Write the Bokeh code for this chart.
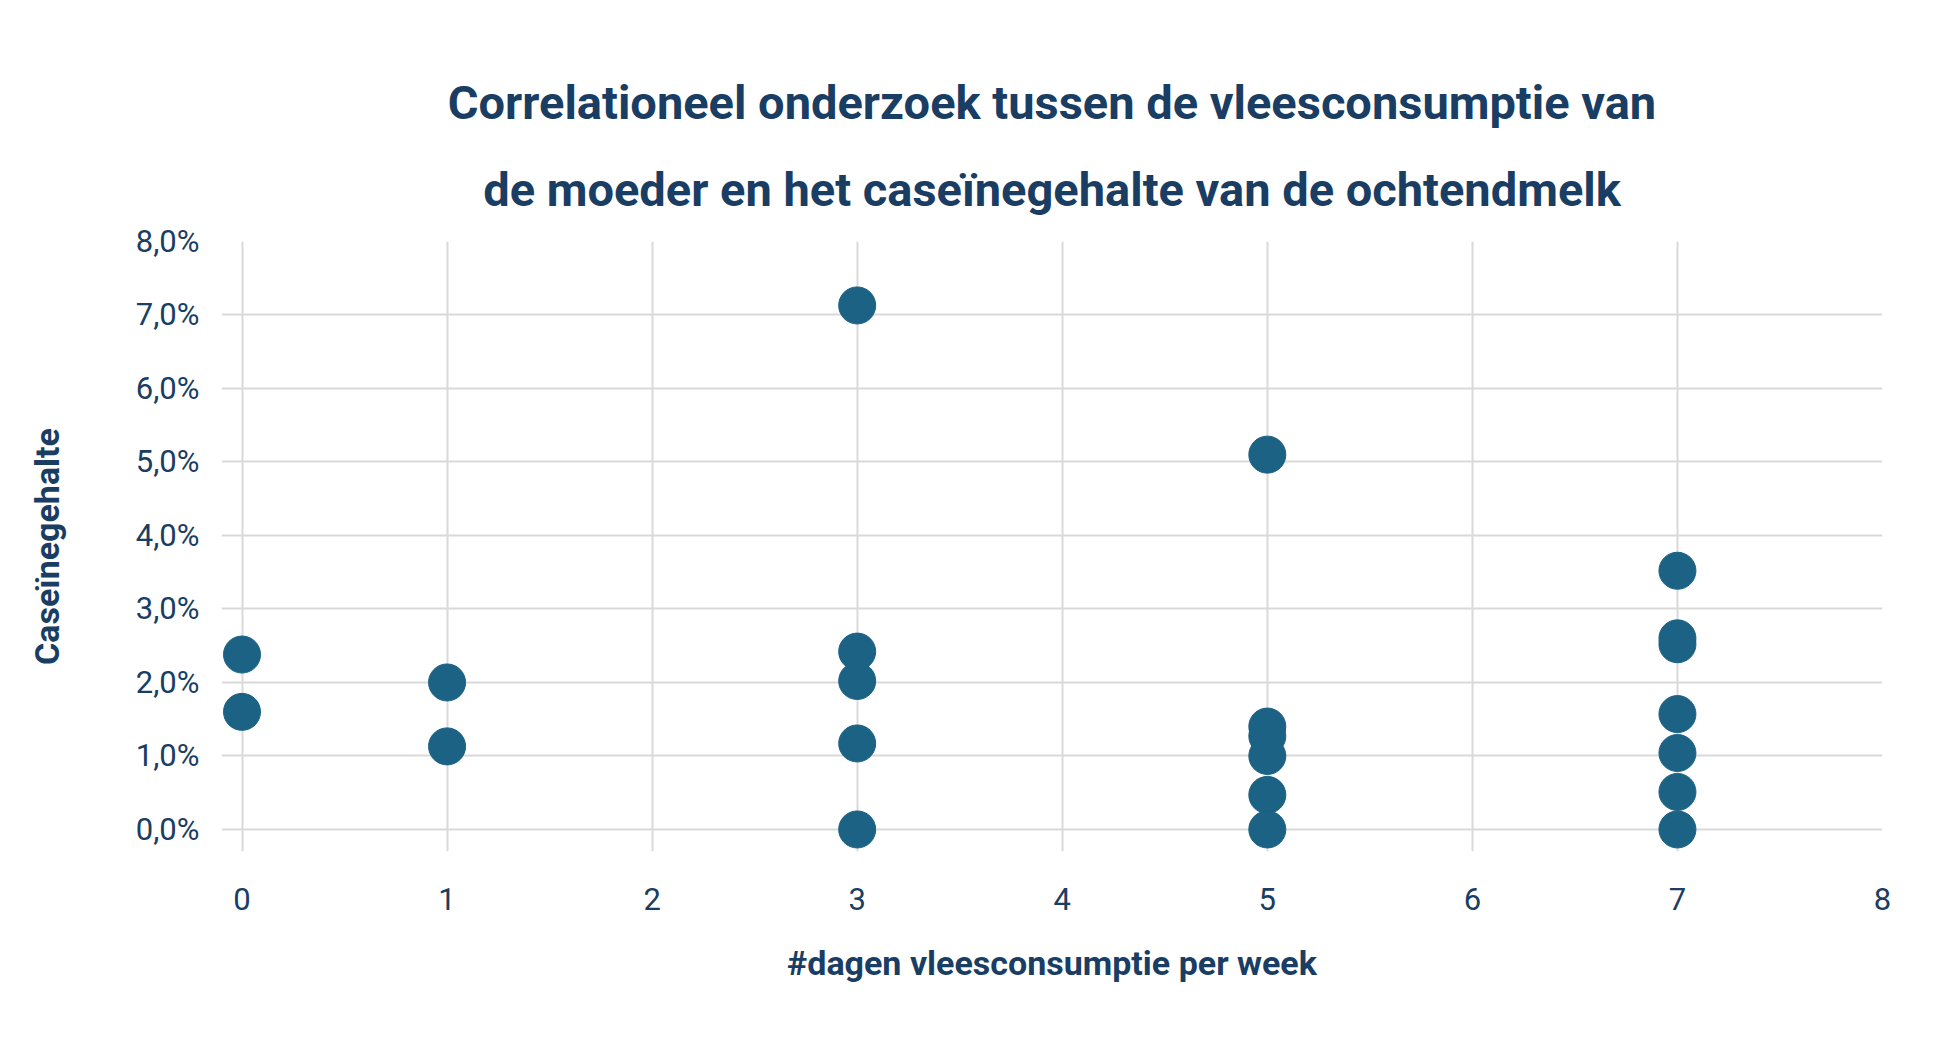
from bokeh.plotting import figure
from bokeh.models import ColumnDataSource, CustomJSTickFormatter, FixedTicker, Range1d, Title
from bokeh.embed import file_html
from bokeh.resources import INLINE

days = [0, 0, 1, 1, 3, 3, 3, 3, 3, 5, 5, 5, 5, 5, 5, 7, 7, 7, 7, 7, 7, 7]
casein = [2.38, 1.6, 2.0, 1.13, 7.13, 2.42, 2.02, 1.17, 0.0,
          5.1, 1.4, 1.27, 1.0, 0.47, 0.0,
          3.52, 2.6, 2.52, 1.57, 1.04, 0.51, 0.0]
x_ticks = [0, 1, 2, 3, 4, 5, 6, 7, 8]
y_ticks = [0, 1, 2, 3, 4, 5, 6, 7, 8]

C = "#1a3d63"
p = figure(width=1936, height=1027, output_backend="svg", toolbar_location=None,
           x_range=Range1d(-0.1, 8), y_range=Range1d(-0.3, 8),
           min_border_left=221, min_border_right=54, min_border_top=241, min_border_bottom=176)
p.outline_line_color = None
p.border_fill_color = "white"
p.add_layout(Title(text="de moeder en het caseïnegehalte van de ochtendmelk", align="center",
                   offset=228, standoff=50, text_font="Roboto", text_font_size="47px",
                   text_font_style="bold", text_color=C), "above")
p.add_layout(Title(text="Correlationeel onderzoek tussen de vleesconsumptie van", align="center",
                   offset=228, standoff=10, text_font="Roboto", text_font_size="47px",
                   text_font_style="bold", text_color=C), "above")
p.scatter(x="x", y="y", source=ColumnDataSource(dict(x=days, y=casein)),
          size=37, color="#1b6285", line_color="#1b6285")
p.xaxis.ticker = FixedTicker(ticks=x_ticks)
p.yaxis.ticker = FixedTicker(ticks=y_ticks)
p.yaxis.formatter = CustomJSTickFormatter(code="return tick.toFixed(1).replace('.', ',') + '%';")
for ax in (p.xaxis, p.yaxis):
    ax.axis_line_color = None
    ax.major_tick_line_color = None
    ax.minor_tick_line_color = None
    ax.major_label_text_font = "Roboto"
    ax.major_label_text_font_size = "31px"
    ax.major_label_text_color = C
    ax.axis_label_text_font = "Roboto"
    ax.axis_label_text_font_size = "34px"
    ax.axis_label_text_font_style = "bold"
    ax.axis_label_text_color = C
p.xaxis.axis_label = "#dagen vleesconsumptie per week"
p.yaxis.axis_label = "Caseïnegehalte"
p.xaxis.major_label_standoff = 30
p.yaxis.major_label_standoff = 16
p.xaxis.axis_label_standoff = 30
p.yaxis.axis_label_standoff = 66
p.grid.grid_line_color = "#d9d9d9"
p.grid.grid_line_width = 2
p.grid.bounds = (0, 8)

open("out.html", "w").write(file_html(p, INLINE))
